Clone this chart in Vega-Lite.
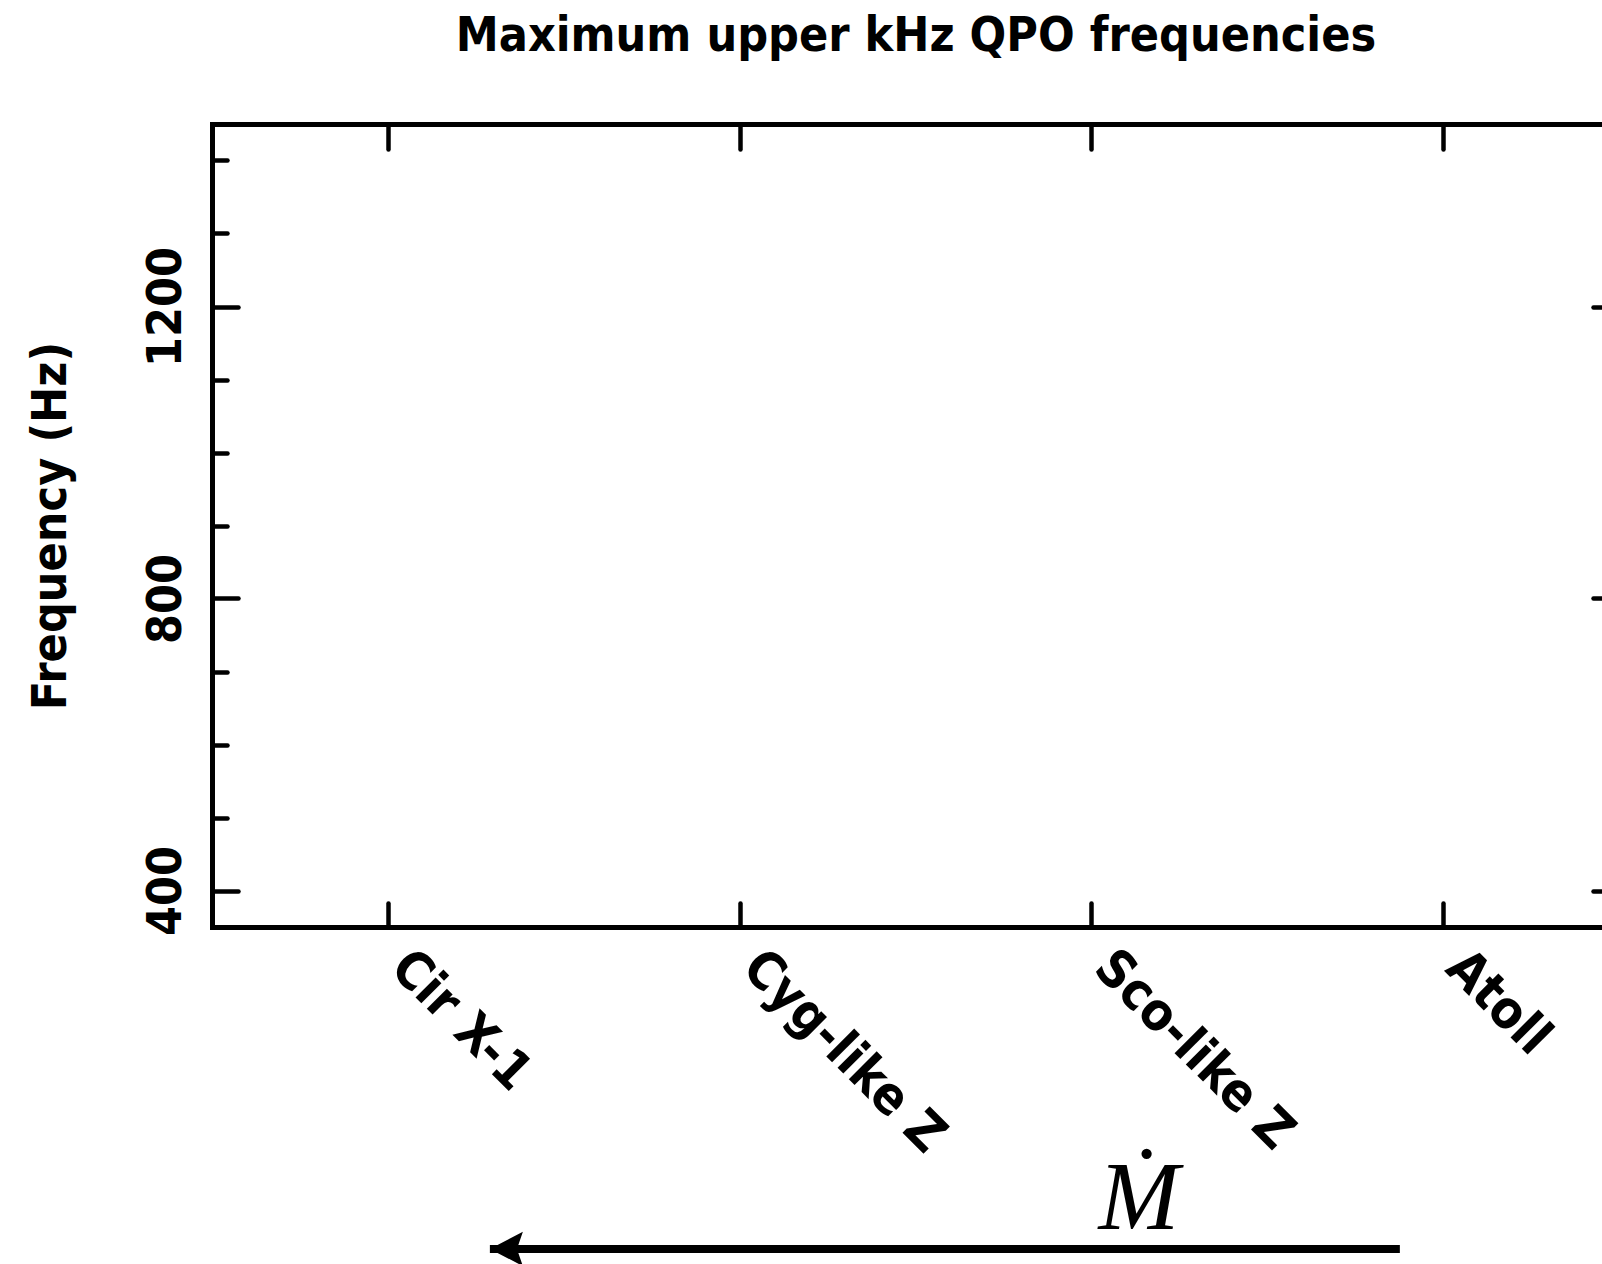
{
  "$schema": "https://vega.github.io/schema/vega-lite/v6.json",
  "autosize": {"type": "none"},
  "width": 1390,
  "height": 803,
  "padding": {"left": 212, "top": 124, "right": 0, "bottom": 337},
  "background": "white",
  "config": {
    "view": {"stroke": null},
    "font": "DejaVu Sans Condensed, DejaVu Sans",
    "axis": {
      "grid": false,
      "domainColor": "black",
      "domainWidth": 5,
      "domainCap": "square",
      "tickColor": "black",
      "tickWidth": 4.5,
      "tickCap": "round",
      "labelColor": "black",
      "labelFont": "DejaVu Sans Condensed, DejaVu Sans",
      "labelFontWeight": "bold",
      "labelFontSize": 48,
      "labelLimit": 0,
      "titleColor": "black",
      "titleFont": "DejaVu Sans Condensed, DejaVu Sans",
      "titleFontSize": 48,
      "titleFontWeight": "bold",
      "labelOverlap": false,
      "labelFlush": false
    }
  },
  "title": {
    "text": "Maximum upper kHz QPO frequencies",
    "font": "DejaVu Sans Condensed, DejaVu Sans",
    "fontSize": 48,
    "fontWeight": "bold",
    "color": "black",
    "anchor": "middle",
    "frame": "group",
    "baseline": "alphabetic",
    "offset": 23,
    "dx": 9
  },
  "datasets": {
    "sources": [
      {"source": "Cir X-1", "max_freq": null},
      {"source": "Cyg-like Z", "max_freq": null},
      {"source": "Sco-like Z", "max_freq": null},
      {"source": "Atoll", "max_freq": null}
    ],
    "mdot": [
      {"quantity": "Ṁ", "arrow_from": 2.877, "arrow_to": 0.29, "arrow_hz": -91, "label_pos": 2.135, "label_hz": -64}
    ]
  },
  "layer": [
    {
      "data": {"name": "sources"},
      "mark": {"type": "point", "opacity": 0},
      "encoding": {
        "x": {
          "field": "source", "type": "nominal", "sort": null,
          "scale": {"type": "point", "domain": ["Cir X-1", "Cyg-like Z", "Sco-like Z", "Atoll"], "range": [0, 1407], "padding": 0.5},
          "axis": {"orient": "bottom", "title": null, "labelAngle": 45, "labelAlign": "left", "labelBaseline": "alphabetic", "labelPadding": 67, "tickSize": -24, "labelFontSize": 52}
        },
        "y": {
          "field": "max_freq", "type": "quantitative",
          "scale": {"domain": [350, 1450], "nice": false, "zero": false},
          "axis": {"orient": "left", "values": [400, 800, 1200], "format": "d", "tickSize": -26, "labelAngle": -90, "labelAlign": "center", "labelBaseline": "alphabetic", "labelPadding": 58,
                   "title": "Frequency (Hz)", "titleAngle": -90, "titleAlign": "center", "titleBaseline": "alphabetic", "titleX": -147, "titleY": 401.5}
        }
      }
    },
    {
      "data": {"name": "sources"},
      "mark": {"type": "point", "opacity": 0},
      "encoding": {
        "x": {
          "field": "source", "type": "nominal", "sort": null,
          "scale": {"type": "point", "domain": ["Cir X-1", "Cyg-like Z", "Sco-like Z", "Atoll"], "range": [0, 1407], "padding": 0.5},
          "axis": {"orient": "top", "title": null, "labels": false, "tickSize": -25}
        },
        "y": {
          "field": "max_freq", "type": "quantitative",
          "scale": {"domain": [350, 1450], "nice": false, "zero": false},
          "axis": {"orient": "left", "values": [500, 600, 700, 900, 1000, 1100, 1300, 1400], "tickSize": -15, "labels": false, "domain": false, "title": null}
        }
      }
    },
    {
      "data": {"name": "sources"},
      "mark": {"type": "point", "opacity": 0},
      "encoding": {
        "y": {
          "field": "max_freq", "type": "quantitative",
          "scale": {"domain": [350, 1450], "nice": false, "zero": false},
          "axis": {"orient": "right", "offset": 17, "values": [400, 800, 1200], "tickSize": -26, "labels": false, "title": null}
        }
      }
    },
    {
      "data": {"name": "sources"},
      "mark": {"type": "point", "opacity": 0},
      "encoding": {
        "y": {
          "field": "max_freq", "type": "quantitative",
          "scale": {"domain": [350, 1450], "nice": false, "zero": false},
          "axis": {"orient": "right", "offset": 17, "values": [500, 600, 700, 900, 1000, 1100, 1300, 1400], "tickSize": -15, "labels": false, "domain": false, "title": null}
        }
      }
    },
    {
      "data": {"name": "mdot"},
      "mark": {"type": "rule", "color": "black", "strokeWidth": 8, "strokeCap": "butt"},
      "encoding": {
        "x": {"field": "arrow_from", "type": "quantitative", "scale": {"domain": [-0.5, 3.5], "range": [0, 1407], "nice": false, "zero": false}, "axis": null},
        "x2": {"field": "arrow_to"},
        "y": {"field": "arrow_hz", "type": "quantitative", "scale": {"domain": [350, 1450], "nice": false, "zero": false}, "axis": null}
      }
    },
    {
      "data": {"name": "mdot"},
      "mark": {"type": "point", "shape": "M 0 0 L 1 -0.52 L 0.82 0 L 1 0.52 Z", "filled": true, "color": "black", "opacity": 1, "strokeWidth": 0, "size": 4356},
      "encoding": {
        "x": {"field": "arrow_to", "type": "quantitative", "scale": {"domain": [-0.5, 3.5], "range": [0, 1407], "nice": false, "zero": false}, "axis": null},
        "y": {"field": "arrow_hz", "type": "quantitative", "scale": {"domain": [350, 1450], "nice": false, "zero": false}, "axis": null}
      }
    },
    {
      "data": {"name": "mdot"},
      "mark": {"type": "text", "font": "Liberation Serif", "fontStyle": "italic", "fontWeight": "normal", "fontSize": 97, "color": "black", "align": "center", "baseline": "alphabetic"},
      "encoding": {
        "x": {"field": "label_pos", "type": "quantitative", "scale": {"domain": [-0.5, 3.5], "range": [0, 1407], "nice": false, "zero": false}, "axis": null},
        "y": {"field": "label_hz", "type": "quantitative", "scale": {"domain": [350, 1450], "nice": false, "zero": false}, "axis": null},
        "text": {"field": "quantity"}
      }
    }
  ],
  "resolve": {"scale": {"x": "independent"}, "axis": {"x": "independent", "y": "independent"}}
}
